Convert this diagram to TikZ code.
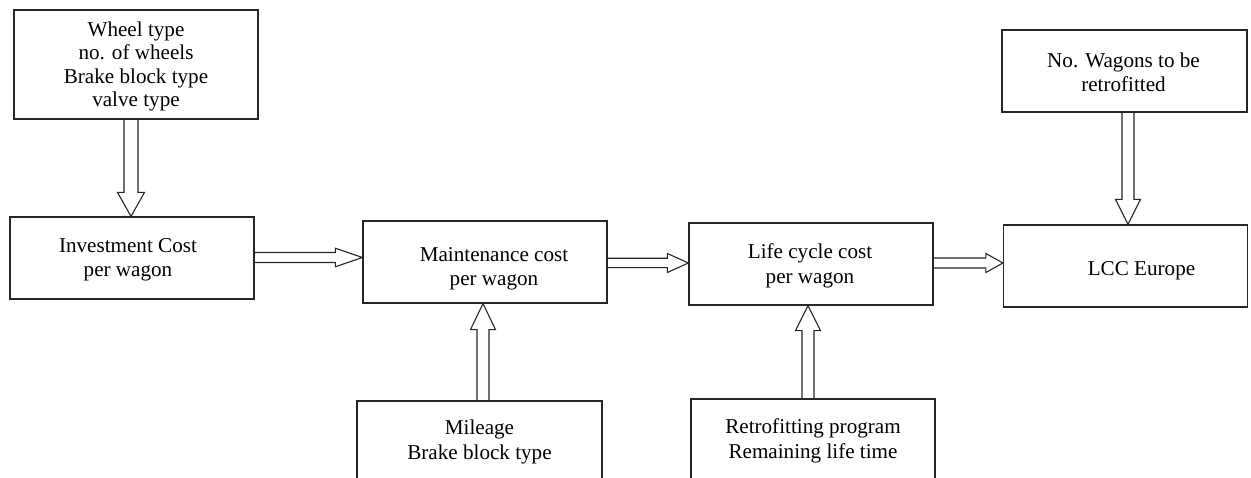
\documentclass[tikz,border=0pt]{standalone}
\usepackage{fontspec}
\setmainfont{Liberation Serif}
\usetikzlibrary{calc}
\tikzset{
  box/.style={draw=black!85, line width=1.2bp, inner sep=0pt},
  txt/.style={align=center, inner sep=0pt, font=\fontsize{21.2}{24.5}\selectfont},
  arrline/.style={draw=black!85, line width=1.1bp, line join=miter}
}
\newcommand\HArr[6]{%
  \draw[arrline] let \p1=(#1.east), \p2=(#2.west), \p3=(0,#3) in
    (\x1,\y3+#4bp) -- (\x2-#6bp,\y3+#4bp) -- (\x2-#6bp,\y3+#5bp) -- (\x2,\y3)
    -- (\x2-#6bp,\y3-#5bp) -- (\x2-#6bp,\y3-#4bp) -- (\x1,\y3-#4bp);}
\newcommand\DArr[6]{%
  \draw[arrline] let \p1=(#1.south), \p2=(#2.north), \p3=(#3,0) in
    (\x3+#4bp,\y1) -- (\x3+#4bp,\y2+#6bp) -- (\x3+#5bp,\y2+#6bp) -- (\x3,\y2)
    -- (\x3-#5bp,\y2+#6bp) -- (\x3-#4bp,\y2+#6bp) -- (\x3-#4bp,\y1);}
\newcommand\UArr[6]{%
  \draw[arrline] let \p1=(#1.north), \p2=(#2.south), \p3=(#3,0) in
    (\x3+#4bp,\y1) -- (\x3+#4bp,\y2-#6bp) -- (\x3+#5bp,\y2-#6bp) -- (\x3,\y2)
    -- (\x3-#5bp,\y2-#6bp) -- (\x3-#4bp,\y2-#6bp) -- (\x3-#4bp,\y1);}
\begin{document}
\begin{tikzpicture}[x=1bp,y=-1bp]
\path[use as bounding box] (0,0) rectangle (1251,478);
\clip (0,0) rectangle (1251,478);
% boxes
\node[box, minimum width=244bp, minimum height=109bp] (b1) at (136,64.5) {};
\node[box, minimum width=244bp, minimum height=82bp] (inv) at (132,258) {};
\node[box, minimum width=244bp, minimum height=82bp] (maint) at (485,262) {};
\node[box, minimum width=244bp, minimum height=82bp] (life) at (811,264) {};
\node[box, minimum width=244bp, minimum height=82bp] (lcc) at (1125.5,266) {};
\node[box, minimum width=245bp, minimum height=82bp] (wag) at (1124.5,71) {};
\node[box, minimum width=245bp, minimum height=120bp] (mil) at (479.5,461) {};
\node[box, minimum width=244bp, minimum height=120bp] (ret) at (813,459) {};
% texts
\node[txt, font=\fontsize{21.2}{23.2}\selectfont] (t1) at ([shift={(0,2)}]b1.center) {Wheel type\\no. of wheels\\Brake block type\\valve type};
\node[txt] (t2) at ([shift={(-4,2)}]inv.center) {Investment Cost\\per wagon};
\node[txt] (t3) at ([shift={(9,7)}]maint.center) {Maintenance cost\\per wagon};
\node[txt] (t4) at ([shift={(-1,2)}]life.center) {Life cycle cost\\per wagon};
\node[txt] (t5) at ([shift={(16,5)}]lcc.center) {LCC Europe};
\node[txt] (t6) at ([shift={(-1,1)}]wag.center) {No. Wagons to be\\retrofitted};
\node[txt] (t7) at (479.5,442) {Mileage\\Brake block type};
\node[txt] (t8) at (813,441) {Retrofitting program\\Remaining life time};
% arrows
\DArr{b1}{inv}{131}{7}{13.5}{24}
\HArr{inv}{maint}{257.5}{5}{9.25}{27}
\HArr{maint}{life}{263}{4.7}{9.5}{21}
\HArr{life}{lcc}{263}{5}{9.5}{17}
\DArr{wag}{lcc}{1128}{6}{12.5}{25}
\UArr{mil}{maint}{483}{6}{12.5}{26}
\UArr{ret}{life}{808}{6}{12.5}{25}
\end{tikzpicture}
\end{document}
